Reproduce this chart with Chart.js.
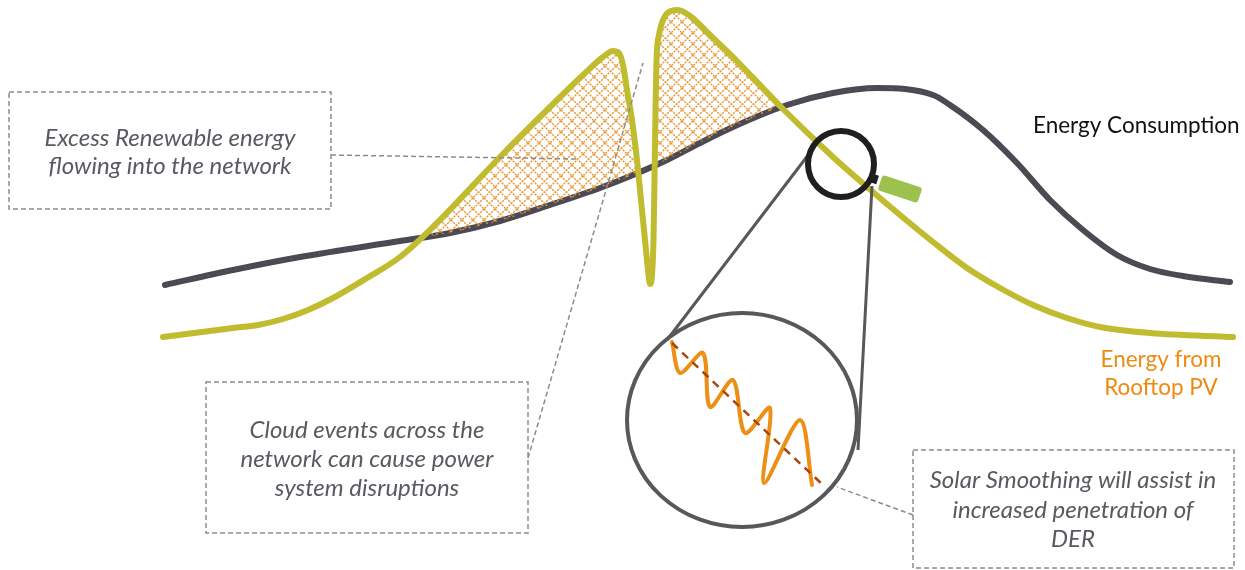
<!DOCTYPE html>
<html>
<head>
<meta charset="utf-8">
<script src="https://cdn.jsdelivr.net/npm/chart.js@4/dist/chart.umd.min.js"></script>
<style>
  html, body { margin: 0; padding: 0; background: #fff; }
  #wrap { width: 1245px; height: 570px; }
</style>
</head>
<body>
<div id="wrap"><canvas id="chartEnergy" width="1245" height="570"></canvas></div>
<script>
// time of day (x) and energy level (y)
const consumptionX = [165, 233, 300, 400, 450, 500, 550, 600, 633, 667, 700, 733, 787, 833, 877, 933, 950, 983, 1017, 1050, 1083, 1117, 1150, 1183, 1230];
const consumptionY = [285, 300, 313, 329, 337, 349, 365, 382, 395, 410, 427, 443, 465, 477, 482, 475, 465, 440, 407, 370, 340, 315, 301, 294, 288];

const pvX = [163, 233, 258, 283, 308, 333, 367, 400, 433, 500, 550, 583, 603, 613, 619, 623, 627, 632, 637, 641, 645, 648, 650, 652, 653.5, 654.5, 655.5, 656.5, 659, 664, 671, 678, 690, 710, 733, 783, 833, 867, 900, 933, 967, 1000, 1033, 1067, 1100, 1150, 1233];
const pvY = [233, 242, 245, 251, 260, 272, 292, 313, 343, 413, 463, 495, 513, 519, 517, 505, 480, 450, 410, 370, 330, 300, 286, 295, 330, 390, 460, 510, 535, 552, 559, 560, 554, 535, 513, 461, 413, 383, 355, 328, 302, 282, 265, 252, 243, 237, 233];

// zoomed-in view of the rooftop PV output under cloud events
const zoomWaveX = [672, 680, 703, 710, 733, 745, 770, 764, 800, 812];
const zoomWaveY = [228, 197, 217, 163, 190, 137, 162, 87, 150, 85];
const zoomTrendX = [672, 823];
const zoomTrendY = [227, 85];

const seriesLabels = ['Energy Consumption', 'Energy from Rooftop PV'];

const notes = [
    { lines: ['Excess Renewable energy', 'flowing into the network'], box: [9, 478, 331, 361], text: [170, 432, 404], link: [331, 415, 577, 411] },
    { lines: ['Cloud events across the', 'network can cause power', 'system disruptions'], box: [206, 188, 528, 37], text: [367, 140, 111, 82], link: [528, 112, 643, 507] },
    { lines: ['Solar Smoothing will assist in', 'increased penetration of', 'DER'], box: [913, 120, 1234, 2], text: [1073, 90, 60, 31], link: [913, 55, 837, 83] }
];

function toPoints(xs, ys) {
    return xs.map((x, i) => ({ x: x, y: ys[i] }));
}

function makeHatch() {
    const c = document.createElement('canvas');
    c.width = 11; c.height = 11;
    const g = c.getContext('2d');
    g.strokeStyle = '#e69a3c';
    g.lineWidth = 1.4;
    g.setLineDash([2.2, 1]);
    g.beginPath();
    g.moveTo(0, 0); g.lineTo(11, 11);
    g.moveTo(11, 0); g.lineTo(0, 11);
    g.stroke();
    return g.createPattern(c, 'repeat');
}

const diagramPlugin = {
    id: 'diagram',
    beforeDatasetsDraw(chart) {
        const ctx = chart.ctx;
        const X = v => chart.scales.x.getPixelForValue(v);
        const Y = v => chart.scales.y.getPixelForValue(v);
        ctx.save();
        // big magnified circle
        ctx.strokeStyle = '#58585a';
        ctx.lineWidth = 4;
        ctx.beginPath();
        ctx.ellipse(X(742), Y(150), X(857) - X(742), Y(43) - Y(150), 0, 0, Math.PI * 2);
        ctx.stroke();
        ctx.restore();
    },
    afterDatasetsDraw(chart) {
        const ctx = chart.ctx;
        const X = v => chart.scales.x.getPixelForValue(v);
        const Y = v => chart.scales.y.getPixelForValue(v);
        ctx.save();

        // lines from magnifier to zoomed circle
        ctx.strokeStyle = '#58585a';
        ctx.lineWidth = 3;
        ctx.beginPath();
        ctx.moveTo(X(812), Y(420)); ctx.lineTo(X(667), Y(230));
        ctx.moveTo(X(872), Y(384)); ctx.lineTo(X(858), Y(120));
        ctx.stroke();

        // magnifier glass
        ctx.strokeStyle = '#1f1f1f';
        ctx.lineWidth = 6;
        ctx.beginPath();
        ctx.arc(X(841), Y(406), X(874) - X(841), 0, Math.PI * 2);
        ctx.stroke();
        ctx.fillStyle = '#1f1f1f';
        ctx.save();
        ctx.translate(X(873), Y(392));
        ctx.rotate(0.3);
        ctx.fillRect(-4, -4, 9, 9);
        ctx.restore();
        ctx.fillStyle = '#9cc14f';
        ctx.save();
        ctx.translate(X(900), Y(381));
        ctx.rotate(0.32);
        ctx.beginPath();
        ctx.roundRect(-21, -8, 42, 16, 3);
        ctx.fill();
        ctx.restore();

        // callout boxes
        notes.forEach(n => {
            ctx.strokeStyle = '#8c8c8c';
            ctx.lineWidth = 1.5;
            ctx.setLineDash([5, 3]);
            ctx.beginPath();
            ctx.moveTo(X(n.link[0]), Y(n.link[1]));
            ctx.lineTo(X(n.link[2]), Y(n.link[3]));
            ctx.stroke();
            const x1 = X(n.box[0]), y1 = Y(n.box[1]), x2 = X(n.box[2]), y2 = Y(n.box[3]);
            ctx.strokeRect(x1, y1, x2 - x1, y2 - y1);
            ctx.setLineDash([]);
            ctx.fillStyle = '#595961';
            ctx.font = 'italic 24px Lato';
            ctx.textAlign = 'center';
            ctx.textBaseline = 'middle';
            n.lines.forEach((t, i) => ctx.fillText(t, X(n.text[0]), Y(n.text[i + 1])));
        });

        // series labels
        ctx.font = '22.5px Lato';
        ctx.textBaseline = 'middle';
        ctx.textAlign = 'left';
        ctx.fillStyle = '#111111';
        ctx.fillText(seriesLabels[0], X(1033), Y(444));
        ctx.textAlign = 'center';
        ctx.fillStyle = '#ee8a12';
        ctx.fillText('Energy from', X(1161), Y(210));
        ctx.fillText('Rooftop PV', X(1161), Y(182));

        ctx.restore();
    }
};

new Chart(document.getElementById('chartEnergy').getContext('2d'), {
    type: 'scatter',
    data: {
        datasets: [{
            label: seriesLabels[0],
            data: toPoints(consumptionX, consumptionY),
            showLine: true,
            borderColor: '#4b4a54',
            borderWidth: 6,
            borderCapStyle: 'round',
            pointRadius: 0,
            cubicInterpolationMode: 'monotone',
            fill: false,
            order: 2
        }, {
            label: seriesLabels[1],
            data: toPoints(pvX, pvY),
            showLine: true,
            borderColor: '#c1bc2f',
            borderWidth: 6,
            borderCapStyle: 'round',
            borderJoinStyle: 'round',
            pointRadius: 0,
            cubicInterpolationMode: 'monotone',
            fill: { target: 0, above: makeHatch(), below: 'rgba(0,0,0,0)' },
            order: 1
        }, {
            label: 'Smoothed',
            data: toPoints(zoomTrendX, zoomTrendY),
            showLine: true,
            borderColor: '#a8450f',
            borderWidth: 2.5,
            borderDash: [8, 6],
            pointRadius: 0,
            fill: false,
            order: 0
        }, {
            label: 'Cloud events',
            data: toPoints(zoomWaveX, zoomWaveY),
            showLine: true,
            borderColor: '#ec8f14',
            borderWidth: 4,
            borderCapStyle: 'round',
            pointRadius: 0,
            tension: 0.3,
            fill: false,
            order: 0
        }]
    },
    options: {
        responsive: false,
        animation: false,
        devicePixelRatio: 1,
        events: [],
        layout: { padding: 0 },
        plugins: { legend: { display: false }, tooltip: { enabled: false } },
        scales: {
            x: { type: 'linear', min: 0, max: 1245, display: false },
            y: { type: 'linear', min: 0, max: 570, display: false }
        }
    },
    plugins: [diagramPlugin]
});
</script>
</body>
</html>
